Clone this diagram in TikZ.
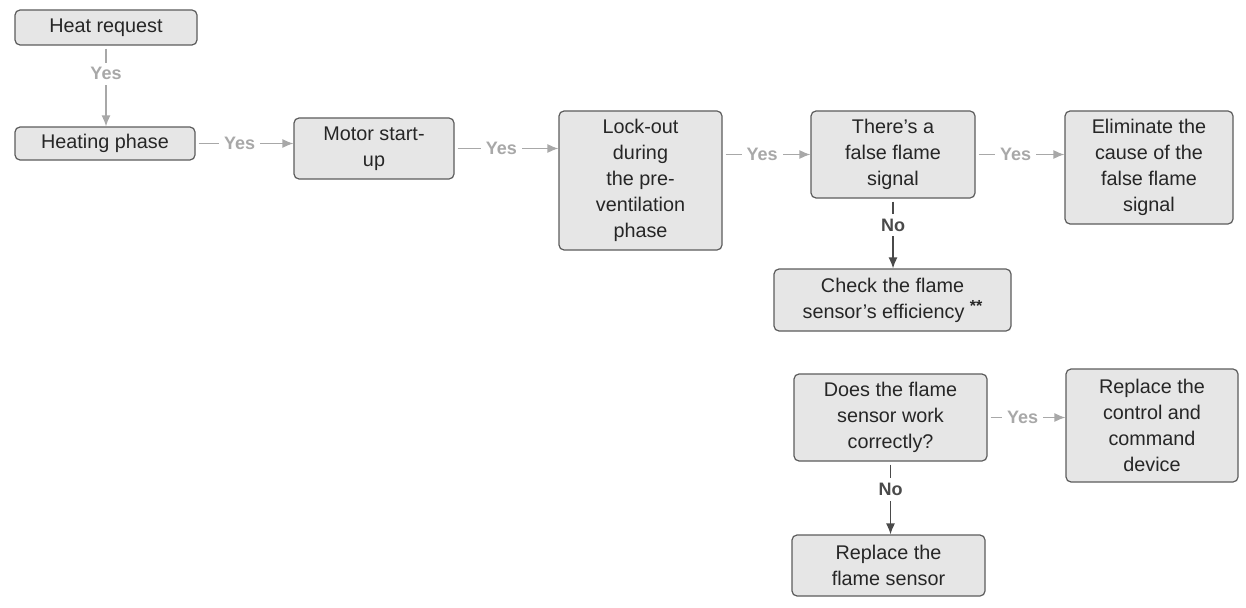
\documentclass[tikz,border=0pt]{standalone}
\usepackage{fontspec}
\setmainfont{Liberation Sans}
\usepackage{xcolor}
\usetikzlibrary{shapes,arrows,arrows.meta,positioning,fit,calc}

\definecolor{boxfill}{HTML}{E6E6E6}
\definecolor{boxline}{HTML}{5C5C5C}
\definecolor{boxtext}{HTML}{262626}
\definecolor{yesgray}{HTML}{A8A8A8}
\definecolor{nogray}{HTML}{4A4A4A}

\begin{document}
\begin{tikzpicture}[x=1pt, y=-1pt,
    block/.style={draw=boxline, fill=boxfill, text=boxtext, rounded corners=5pt, line width=1.2pt, align=center, inner sep=0pt, font=\fontsize{19.8}{26}\selectfont},
    yesarr/.style={-{Latex[length=11pt,width=9pt]}, draw=yesgray, line width=1.3pt, shorten <=3pt},
    noarr/.style={-{Latex[length=11pt,width=9pt]}, draw=nogray, line width=1.3pt, shorten <=3pt},
    yeslbl/.style={fill=white, text=yesgray, inner sep=5pt, font=\fontsize{18}{20}\selectfont\bfseries},
    nolbl/.style={fill=white, text=nogray, inner sep=5pt, font=\fontsize{18}{20}\selectfont\bfseries}
  ]
    \useasboundingbox (0,0) rectangle (1246,607);
    \node[block, minimum width=182pt, minimum height=35pt] (HR) at (106, 27.5) {Heat request};
    \node[block, minimum width=180pt, minimum height=33pt] (HP) at (105, 143.5) {Heating phase};
    \node[block, minimum width=160pt, minimum height=61pt] (MS) at (374, 148.5) {Motor start-\\up};
    \node[block, minimum width=163pt, minimum height=139pt] (LO) at (640.5, 180.5) {Lock-out\\during\\the pre-\\ventilation\\phase};
    \node[block, minimum width=164pt, minimum height=87pt] (FF) at (893, 154.5) {There's a\\false flame\\signal};
    \node[block, minimum width=168pt, minimum height=113pt] (EL) at (1149, 167.5) {Eliminate the\\cause of the\\false flame\\signal};
    \node[block, minimum width=237pt, minimum height=62pt] (CK) at (892.5, 300) {Check the flame\\sensor's efficiency \raisebox{0.35em}{\fontsize{16}{16}\selectfont\bfseries **}};
    \node[block, minimum width=193pt, minimum height=87pt] (DS) at (890.5, 417.5) {Does the flame\\sensor work\\correctly?};
    \node[block, minimum width=172pt, minimum height=113pt] (RC) at (1152, 425.5) {Replace the\\control and\\command\\device};
    \node[block, minimum width=193pt, minimum height=61pt] (RF) at (888.5, 565.5) {Replace the\\flame sensor};
    \draw[yesarr] (HR.south) -- node[yeslbl, pos=0.35] {Yes} (HR.south |- HP.north);
    \foreach \i/\j in {HP/MS, MS/LO, FF/EL, DS/RC}
      \draw[yesarr] (\i.east) -- node[yeslbl, pos=0.45] {Yes} (\i.east -| \j.west);
    \draw[yesarr] (LO.east |- FF.west) -- node[yeslbl, pos=0.45] {Yes} (FF.west);
    \foreach \i/\j in {FF/CK, DS/RF}
      \draw[noarr] (\i.south) -- node[nolbl, pos=0.38] {No} (\i.south |- \j.north);
  \end{tikzpicture}
\end{document}
